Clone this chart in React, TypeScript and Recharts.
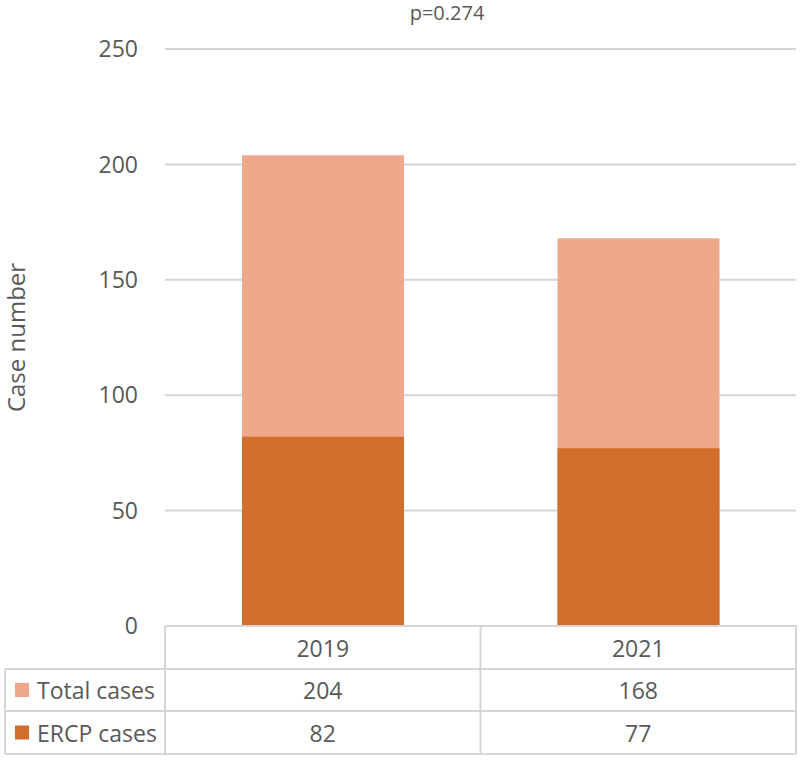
import { BarChart, Bar, XAxis, YAxis, CartesianGrid } from 'recharts';

const years = ['2019', '2021'];
const totalCases = [204, 168];
const ercpCases = [82, 77];
const yTicks = [0, 50, 100, 150, 200, 250];

const seriesNames = ['Total cases', 'ERCP cases'];
const seriesColors = ['#F0A88A', '#D26E2B'];

const data = years.map((year, i) => ({ year, total: totalCases[i], ercp: ercpCases[i] }));

const W = 800;
const H = 760;
const PLOT_LEFT = 165;
const PLOT_RIGHT = 796;
const PLOT_TOP = 49;
const PLOT_BOTTOM = 626;
const CELL_W = (PLOT_RIGHT - PLOT_LEFT) / years.length;
const ROW_LINES = [PLOT_BOTTOM, 669, 711, 754];
const TABLE_LEFT = 5;

const TEXT = '#595959';
const BORDER = '#d6d6d6';
const FONT = '"Open Sans", sans-serif';

// x-axis ticks draw the data table under the plot
function TableTick(props: any) {
  const { x, payload } = props;
  const i = payload.index;
  const left = x - CELL_W / 2;
  const right = x + CELL_W / 2;
  const cells = [years[i], String(totalCases[i]), String(ercpCases[i])];
  return (
    <g>
      {ROW_LINES.map((ly, k) => (
        <line key={'h' + k} x1={left} x2={right} y1={ly} y2={ly} stroke={BORDER} strokeWidth={2} />
      ))}
      <line x1={left} x2={left} y1={PLOT_BOTTOM} y2={754} stroke={BORDER} strokeWidth={2} />
      {i === years.length - 1 && (
        <line x1={right} x2={right} y1={PLOT_BOTTOM} y2={754} stroke={BORDER} strokeWidth={2} />
      )}
      {cells.map((t, k) => (
        <text
          key={'t' + k}
          x={x}
          y={(ROW_LINES[k] + ROW_LINES[k + 1]) / 2}
          textAnchor="middle"
          dominantBaseline="central"
          fill={TEXT}
          fontSize={23}
          fontFamily={FONT}
        >
          {t}
        </text>
      ))}
      {i === 0 && (
        <g>
          {ROW_LINES.slice(1).map((ly, k) => (
            <line key={'lh' + k} x1={TABLE_LEFT} x2={left} y1={ly} y2={ly} stroke={BORDER} strokeWidth={2} />
          ))}
          <line x1={TABLE_LEFT} x2={TABLE_LEFT} y1={ROW_LINES[1]} y2={754} stroke={BORDER} strokeWidth={2} />
          {seriesNames.map((name, k) => {
            const cy = (ROW_LINES[k + 1] + ROW_LINES[k + 2]) / 2;
            return (
              <g key={'lg' + k}>
                <rect x={15} y={cy - 7} width={14} height={14} fill={seriesColors[k]} />
                <text x={37} y={cy} dominantBaseline="central" fill={TEXT} fontSize={23} fontFamily={FONT}>
                  {name}
                </text>
              </g>
            );
          })}
        </g>
      )}
    </g>
  );
}

export default function App() {
  return (
    <div style={{ position: 'absolute', left: 0, top: 0, width: W, height: H, background: '#fff' }}>
      <div
        style={{
          position: 'absolute',
          left: 0,
          width: 894,
          top: 1,
          textAlign: 'center',
          fontFamily: FONT,
          fontSize: 20,
          color: TEXT,
          lineHeight: '24px',
        }}
      >
        p=0.274
      </div>
      <BarChart
        width={W}
        height={H}
        data={data}
        margin={{ top: PLOT_TOP, right: W - PLOT_RIGHT, bottom: 0, left: 0 }}
        barSize={162}
        barGap={-162}
      >
        <CartesianGrid vertical={false} stroke={BORDER} strokeWidth={2} />
        <XAxis
          dataKey="year"
          height={H - PLOT_BOTTOM}
          axisLine={false}
          tickLine={false}
          tickSize={0}
          tickMargin={0}
          tick={<TableTick />}
          interval={0}
        />
        <YAxis
          width={PLOT_LEFT}
          domain={[0, 250]}
          ticks={yTicks}
          axisLine={false}
          tickLine={false}
          tickSize={0}
          tickMargin={27}
          tick={{ fill: TEXT, fontSize: 23, fontFamily: FONT }}
          label={({ viewBox }: any) => (
            <text
              x={15}
              y={viewBox.y + viewBox.height / 2}
              transform={`rotate(-90 15 ${viewBox.y + viewBox.height / 2})`}
              textAnchor="middle"
              dominantBaseline="central"
              fill={TEXT}
              fontSize={24}
              fontFamily={FONT}
            >
              Case number
            </text>
          )}
        />
        <Bar dataKey="total" name={seriesNames[0]} fill={seriesColors[0]} isAnimationActive={false} />
        <Bar dataKey="ercp" name={seriesNames[1]} fill={seriesColors[1]} isAnimationActive={false} />
      </BarChart>
    </div>
  );
}
